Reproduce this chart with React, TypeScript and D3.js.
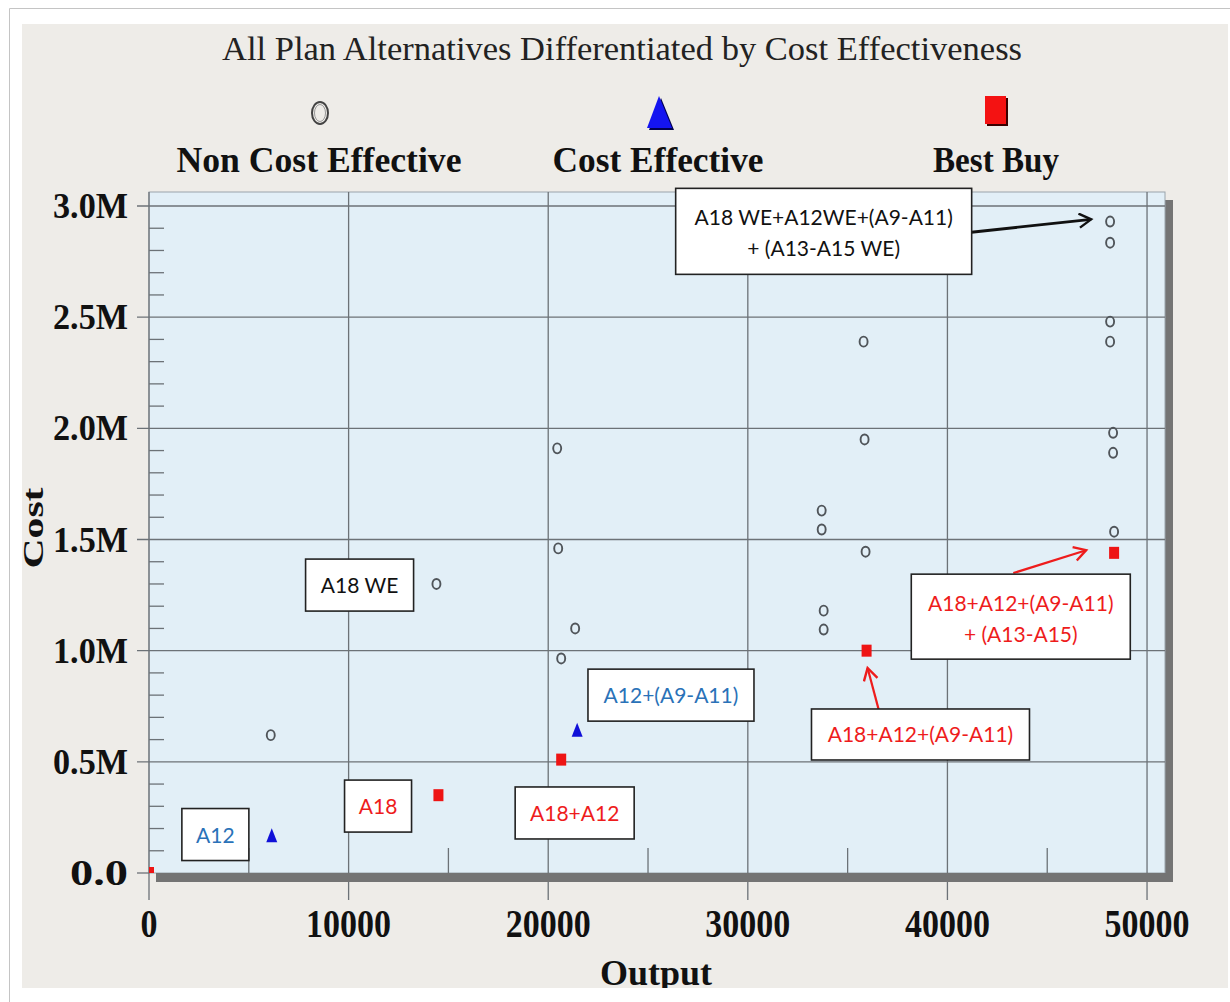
import * as React from 'react';
import * as d3 from 'd3';
import { useRef, useEffect } from 'react';

// Chart texts
const title = 'All Plan Alternatives Differentiated by Cost Effectiveness'
const legendNames = ['Non Cost Effective', 'Cost Effective', 'Best Buy']
const xLabel = 'Output'
const yLabel = 'Cost'

// [output, cost] for each plan alternative
const nonCostEffective: [number, number][] = [
    [6100, 620000], [14400, 1300000],
    [20450, 1910000], [20500, 1460000], [20650, 965000], [21350, 1100000],
    [33700, 1630000], [33700, 1545000], [33800, 1180000], [33800, 1095000],
    [35800, 2390000], [35850, 1950000], [35900, 1445000],
    [48150, 2930000], [48150, 2835000], [48150, 2480000], [48150, 2390000],
    [48300, 1980000], [48300, 1890000], [48350, 1535000],
]
const costEffective: [number, number][] = [[6150, 165000], [21450, 640000]]
const bestBuy: [number, number][] = [[0, 0], [14500, 350000], [20650, 510000], [35950, 1000000], [48350, 1440000]]

// Axis ticks
const xTicks = [0, 10000, 20000, 30000, 40000, 50000]
const xMinorTicks = [5000, 15000, 25000, 35000, 45000]
const yTicks = [0, 500000, 1000000, 1500000, 2000000, 2500000, 3000000]
const yTickLabels = ['0.0', '0.5M', '1.0M', '1.5M', '2.0M', '2.5M', '3.0M']

// Callout texts, the kind of plan they name, and where they sit (data units)
const noteTexts = [
    ['A18 WE+A12WE+(A9-A11)', '+ (A13-A15 WE)'],
    ['A18 WE'],
    ['A12'],
    ['A18'],
    ['A18+A12'],
    ['A12+(A9-A11)'],
    ['A18+A12+(A9-A11)'],
    ['A18+A12+(A9-A11)', '+ (A13-A15)'],
]
const noteKinds = ['non', 'non', 'ce', 'bb', 'bb', 'ce', 'bb', 'bb']
const noteCenters: [number, number][] = [
    [33800, 2886000], [10550, 1295000], [3325, 173000], [11475, 301000],
    [21325, 270000], [26150, 800000], [38650, 623000], [43675, 1153000],
]
const noteSizes: [number, number][] = [
    [296, 86], [108, 52], [67, 52], [67, 52], [119, 52], [166, 52], [218, 51], [219, 85],
]
// callout arrows: from, to (data units)
const arrows: { from: [number, number], to: [number, number], kind: string }[] = [
    { from: [41200, 2882000], to: [47200, 2940000], kind: 'non' },
    { from: [36550, 737000], to: [36000, 922000], kind: 'bb' },
    { from: [43300, 1349000], to: [46950, 1452000], kind: 'bb' },
]

const kindColor: Record<string, string> = { non: '#111', ce: '#2a72b8', bb: '#ee1c1c' }

const W = 1230
const H = 1002
const plot = { left: 149, top: 192, right: 1165, bottom: 873 }
const serif = '"Liberation Serif", "DejaVu Serif", serif'
const sans = 'Lato, "Open Sans", sans-serif'

const Chart = () => {
    const svgRef = useRef<SVGSVGElement>(null)

    useEffect(() => {
        const svg = d3.select(svgRef.current)
        svg.selectAll('*').remove()

        const x = d3.scaleLinear().domain([0, 50900]).range([plot.left, plot.right])
        const y = d3.scaleLinear().domain([0, 3063000]).range([plot.bottom, plot.top])

        const defs = svg.append('defs')
        defs.append('clipPath').attr('id', 'page-clip')
            .append('rect').attr('x', 22).attr('y', 24).attr('width', 1206).attr('height', 964)
        defs.append('clipPath').attr('id', 'plot-clip')
            .append('rect').attr('x', plot.left).attr('y', plot.top)
            .attr('width', plot.right - plot.left).attr('height', plot.bottom - plot.top)
        Object.entries(kindColor).forEach(([k, c]) => {
            defs.append('marker').attr('id', 'arrow-' + k)
                .attr('markerUnits', 'userSpaceOnUse')
                .attr('markerWidth', 18).attr('markerHeight', 18)
                .attr('refX', 14).attr('refY', 8).attr('orient', 'auto')
                .append('path').attr('d', 'M2,1 L14,8 L2,15')
                .attr('fill', 'none').attr('stroke', c).attr('stroke-width', 2.4)
        })

        // page frame
        svg.append('rect').attr('width', W).attr('height', H).attr('fill', '#fff')
        svg.append('path').attr('d', `M9.5,${H} V8.5 H${W}`).attr('fill', 'none').attr('stroke', '#c4c4c4')

        const page = svg.append('g').attr('clip-path', 'url(#page-clip)')
        page.append('rect').attr('x', 22).attr('y', 24).attr('width', 1206).attr('height', 964).attr('fill', '#eeece8')

        // title and legend
        page.append('text').attr('x', 622).attr('y', 60).attr('text-anchor', 'middle')
            .attr('font-family', serif).attr('font-size', 34).attr('fill', '#222')
            .attr('textLength', 800).attr('lengthAdjust', 'spacingAndGlyphs').text(title)

        const legendX = [319, 658, 996]
        const legendW = [285, 211, 126]
        legendNames.forEach((n, i) => {
            page.append('text').attr('x', legendX[i]).attr('y', 172).attr('text-anchor', 'middle')
                .attr('font-family', serif).attr('font-weight', 'bold').attr('font-size', 36).attr('fill', '#111')
                .attr('textLength', legendW[i]).attr('lengthAdjust', 'spacingAndGlyphs').text(n)
        })
        const lg = page.append('g')
        lg.append('ellipse').attr('cx', 320).attr('cy', 113).attr('rx', 8).attr('ry', 11)
            .attr('fill', 'none').attr('stroke', '#444').attr('stroke-width', 2)
        lg.append('ellipse').attr('cx', 320).attr('cy', 113).attr('rx', 5.5).attr('ry', 8.5)
            .attr('fill', 'none').attr('stroke', '#999').attr('stroke-width', 1)
        lg.append('path').attr('d', 'M661,98 L674,130 L649,130 Z').attr('fill', '#000050')
        lg.append('path').attr('d', 'M659,96 L672,128 L647,128 Z').attr('fill', '#1414f0')
        lg.append('rect').attr('x', 987).attr('y', 98).attr('width', 21).attr('height', 28).attr('fill', '#3a0000')
        lg.append('rect').attr('x', 985).attr('y', 96).attr('width', 21).attr('height', 28).attr('fill', '#f41212')

        // plot area with its shadow
        page.append('rect').attr('x', 156).attr('y', 200).attr('width', plot.right + 8 - 156).attr('height', plot.bottom + 9 - 200).attr('fill', '#747474')
        page.append('rect').attr('x', plot.left).attr('y', plot.top)
            .attr('width', plot.right - plot.left).attr('height', plot.bottom - plot.top)
            .attr('fill', '#e2eff7').attr('stroke', '#9aa4ab').attr('stroke-width', 1)

        // grid lines and ticks
        const grid = page.append('g').attr('stroke', '#6c7277').attr('stroke-width', 1.3)
        yTicks.filter(v => v > 0).forEach(v => {
            grid.append('line').attr('x1', plot.left - 12).attr('x2', plot.right).attr('y1', y(v)).attr('y2', y(v))
        })
        xTicks.forEach(v => {
            grid.append('line').attr('x1', x(v)).attr('x2', x(v)).attr('y1', plot.top).attr('y2', plot.bottom + 27)
        })
        xMinorTicks.forEach(v => {
            grid.append('line').attr('x1', x(v)).attr('x2', x(v)).attr('y1', plot.bottom - 25).attr('y2', plot.bottom)
        })
        d3.range(1, 31).filter(i => i % 5 !== 0).forEach(i => {
            grid.append('line').attr('x1', plot.left).attr('x2', plot.left + 15)
                .attr('y1', y(i * 100000)).attr('y2', y(i * 100000))
        })
        grid.append('line').attr('x1', plot.left - 12).attr('x2', plot.left).attr('y1', y(0)).attr('y2', y(0))
        page.append('rect').attr('x', 156).attr('y', plot.bottom).attr('width', plot.right + 8 - 156).attr('height', 9).attr('fill', '#747474')

        // axis labels
        yTicks.forEach((v, i) => {
            page.append('text').attr('x', 128).attr('y', y(v) + 12).attr('text-anchor', 'end')
                .attr('font-family', serif).attr('font-weight', 'bold').attr('font-size', 36).attr('fill', '#111')
                .attr('textLength', yTickLabels[i].length === 3 ? 58 : 75).attr('lengthAdjust', 'spacingAndGlyphs')
                .text(yTickLabels[i])
        })
        xTicks.forEach(v => {
            const s = d3.format('d')(v)
            page.append('text').attr('x', x(v)).attr('y', 937).attr('text-anchor', 'middle')
                .attr('font-family', serif).attr('font-weight', 'bold').attr('font-size', 40).attr('fill', '#111')
                .attr('textLength', s.length * 17).attr('lengthAdjust', 'spacingAndGlyphs').text(s)
        })
        page.append('text').attr('x', 656).attr('y', 985).attr('text-anchor', 'middle')
            .attr('font-family', serif).attr('font-weight', 'bold').attr('font-size', 36).attr('fill', '#111').text(xLabel)
        page.append('text').attr('transform', 'translate(43,528) rotate(-90)').attr('text-anchor', 'middle')
            .attr('font-family', serif).attr('font-weight', 'bold').attr('font-size', 29).attr('fill', '#111')
            .attr('textLength', 81).attr('lengthAdjust', 'spacingAndGlyphs').text(yLabel)

        // marks
        const marks = page.append('g').attr('clip-path', 'url(#plot-clip)')
        marks.selectAll('ellipse.nce').data(nonCostEffective).join('ellipse').attr('class', 'nce')
            .attr('cx', d => x(d[0])).attr('cy', d => y(d[1])).attr('rx', 4).attr('ry', 5)
            .attr('fill', 'none').attr('stroke', '#50555a').attr('stroke-width', 1.9)
        marks.selectAll('path.ce').data(costEffective).join('path').attr('class', 'ce')
            .attr('transform', d => `translate(${x(d[0])},${y(d[1])})`)
            .attr('d', 'M0,-8 L5.5,6 L-5.5,6 Z').attr('fill', '#1010d8')
        marks.selectAll('rect.bb').data(bestBuy).join('rect').attr('class', 'bb')
            .attr('x', d => x(d[0]) - 5).attr('y', d => y(d[1]) - 6).attr('width', 10).attr('height', 12)
            .attr('fill', '#ee1414')

        // callouts
        arrows.forEach(a => {
            page.append('line').attr('x1', x(a.from[0])).attr('y1', y(a.from[1]))
                .attr('x2', x(a.to[0])).attr('y2', y(a.to[1]))
                .attr('stroke', kindColor[a.kind]).attr('stroke-width', a.kind === 'non' ? 2.8 : 2.2)
                .attr('marker-end', `url(#arrow-${a.kind})`)
        })
        noteTexts.forEach((lines, i) => {
            const cx = x(noteCenters[i][0])
            const cy = y(noteCenters[i][1])
            const [w, h] = noteSizes[i]
            const g = page.append('g')
            g.append('rect').attr('x', cx - w / 2).attr('y', cy - h / 2).attr('width', w).attr('height', h)
                .attr('fill', '#fff').attr('stroke', '#222').attr('stroke-width', 1.6)
            const base = lines.length === 1 ? [8] : [-6, 25]
            lines.forEach((t, j) => {
                g.append('text').attr('x', cx).attr('y', cy + base[j]).attr('text-anchor', 'middle')
                    .attr('font-family', sans).attr('font-size', 21).attr('fill', kindColor[noteKinds[i]]).text(t)
            })
        })
    }, [])

    return <svg width={W} height={H} ref={svgRef} style={{ position: 'absolute', left: 0, top: 0 }} />
}

export default function App() {
    return <Chart />
}
